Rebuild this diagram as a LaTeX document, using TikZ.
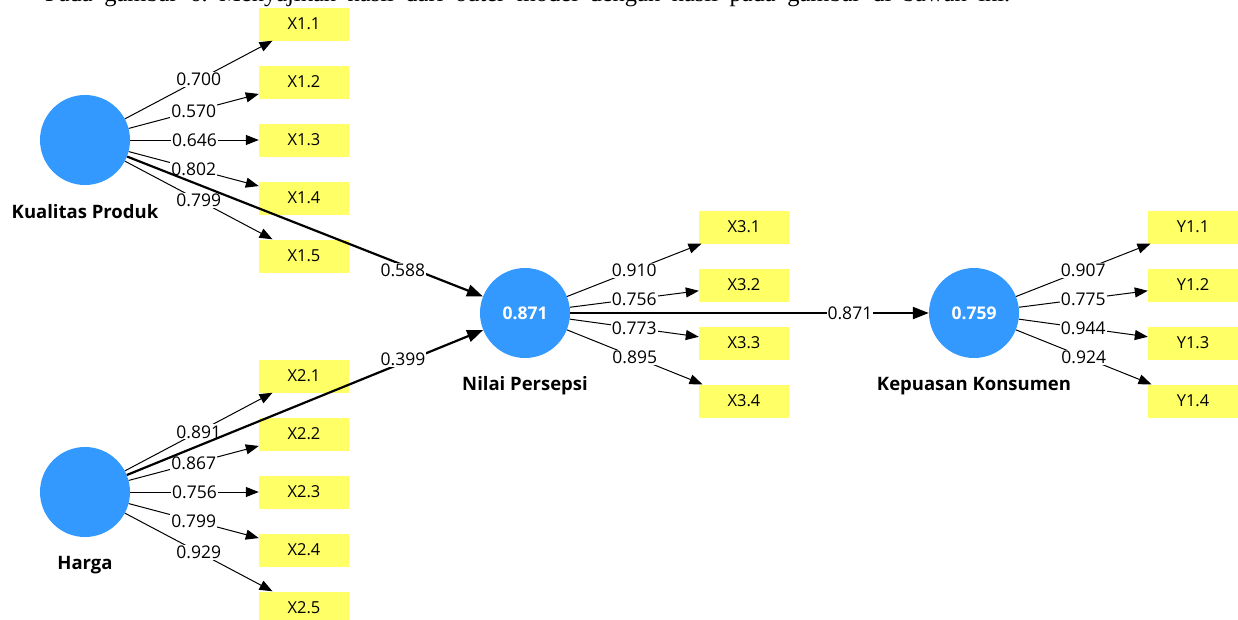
\documentclass[tikz,border=0pt]{standalone}
\usepackage{fontspec}
\setmainfont{Open Sans}
\newfontfamily\captionserif{Liberation Serif}
\usetikzlibrary{arrows.meta}
\definecolor{lvblue}{RGB}{51,153,255}
\definecolor{mvyellow}{RGB}{255,255,102}
\frenchspacing
\begin{document}
\begin{tikzpicture}[x=1pt,y=-1pt,
  latent/.style={circle,fill=lvblue,minimum size=90pt,inner sep=0pt,text=white,font=\fontsize{17.5}{17.5}\selectfont\bfseries},
  indicator/.style={rectangle,fill=mvyellow,minimum width=90pt,minimum height=33pt,inner sep=0pt,font=\fontsize{16.5}{16.5}\selectfont},
  loading/.style={draw=black,line width=1pt,-{Triangle[length=13pt,width=10pt]}},
  pathcoef/.style={draw=black,line width=2.2pt,-{Triangle[length=16pt,width=12pt]}},
  lbl/.style={fill=white,inner sep=1pt,font=\fontsize{17.5}{17.5}\selectfont},
  lname/.style={font=\fontsize{18.5}{18.5}\selectfont\bfseries}]
\useasboundingbox (0,0) rectangle (1238,619);

% caption cut off at top
\node[anchor=base west,inner sep=0pt,font=\captionserif\fontsize{24.5}{24.5}\selectfont] (cap) at (45,1.5)
  {\makebox[965pt][s]{Pada gambar 6. Menyajikan hasil dari outer model dengan hasil pada gambar di bawah ini.}};

% latent variables
\node[latent] (KP) at (85,140) {};
\node[latent] (H) at (85,492) {};
\node[latent] (NP) at (525,313) {0.871};
\node[latent] (KK) at (974,313) {0.759};

\node[lname] (KPn) at (85,212) {Kualitas Produk};
\node[lname] (Hn) at (85,565) {Harga};
\node[lname] (NPn) at (525,386) {Nilai Persepsi};
\node[lname] (KKn) at (974,386) {Kepuasan Konsumen};

% indicators
\foreach \i/\y in {1/24,2/82,3/140,4/198,5/256}
  \node[indicator] (X1\i) at (304,\y) {X1.\i};
\foreach \i/\y in {1/376,2/434,3/492,4/550,5/608}
  \node[indicator] (X2\i) at (304,\y) {X2.\i};
\foreach \i/\y in {1/227,2/285,3/343,4/401}
  \node[indicator] (X3\i) at (744,\y) {X3.\i};
\foreach \i/\y in {1/227,2/285,3/343,4/401}
  \node[indicator] (Y1\i) at (1193,\y) {Y1.\i};

% outer loadings
\foreach \s/\t/\v in {KP/X11/0.700,KP/X12/0.570,KP/X13/0.646,KP/X14/0.802,KP/X15/0.799,
                      H/X21/0.891,H/X22/0.867,H/X23/0.756,H/X24/0.799,H/X25/0.929,
                      NP/X31/0.910,NP/X32/0.756,NP/X33/0.773,NP/X34/0.895,
                      KK/Y11/0.907,KK/Y12/0.775,KK/Y13/0.944,KK/Y14/0.924}{
  \draw[loading] (\s) -- node[lbl]{\v} (\t);
}

% inner model
\draw[pathcoef] (KP) -- (NP);
\draw[pathcoef] (H) -- (NP);
\draw[pathcoef] (NP) -- (KK);
\path (KP) -- node[lbl,pos=0.775,yshift=-5pt]{0.588} (NP);
\path (H) -- node[lbl,pos=0.775,yshift=3pt]{0.399} (NP);
\path (NP) -- node[lbl,pos=0.78]{0.871} (KK);
\end{tikzpicture}
\end{document}
